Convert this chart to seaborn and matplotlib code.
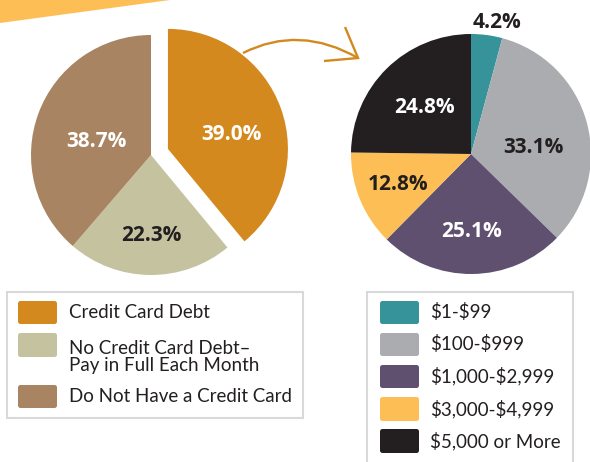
import numpy as np
import matplotlib
matplotlib.use("Agg")
import matplotlib.pyplot as plt
from matplotlib.patches import Polygon, FancyBboxPatch, Rectangle, PathPatch
from matplotlib.path import Path
import seaborn as sns

# Credit card status of respondents
status_labels = ["Credit Card Debt", "No Credit Card Debt\u2013\nPay in Full Each Month",
                 "Do Not Have a Credit Card"]
status_values = [39.0, 22.3, 38.7]
status_colors = ["#D4891E", "#C5C39F", "#A88462"]

# Amount of credit card debt among those carrying a balance
debt_labels = ["$1-$99", "$100-$999", "$1,000-$2,999", "$3,000-$4,999", "$5,000 or More"]
debt_values = [4.2, 33.1, 25.1, 12.8, 24.8]
debt_colors = ["#36939A", "#ABACB0", "#5F5070", "#FDBF55", "#231F20"]

DARK = "#231F20"
H = 462

sns.set_theme(style="white")
plt.rcParams["font.family"] = ["Open Sans", "DejaVu Sans"]
plt.rcParams["text.parse_math"] = False

fig = plt.figure(figsize=(5.9, 4.62), dpi=100)
ax = fig.add_axes([0, 0, 1, 1])


def Y(y):
    return H - y


# decorative band in the top-left corner
ax.add_patch(Polygon([(0, Y(0)), (170, Y(0)), (0, Y(23))], closed=True,
                     facecolor="#FDBF55", edgecolor="none"))

R = 120


def draw_pie(values, colors, center, explode, placement, text_colors):
    wedges, _ = ax.pie(values, colors=colors, startangle=90, counterclock=False,
                       radius=R, center=center, explode=explode,
                       wedgeprops=dict(linewidth=0), frame=True)
    for w, v, (frac, shift), tc in zip(wedges, values, placement, text_colors):
        cx, cy = w.center
        mid = np.deg2rad((w.theta1 + w.theta2) / 2 + shift)
        ax.text(cx + R * frac * np.cos(mid), cy + R * frac * np.sin(mid), f"{v:.1f}%",
                ha="center", va="center", fontsize=15, fontweight="bold", color=tc)
    return wedges


# the debt slice is pulled out from the status pie
draw_pie(status_values, status_colors, (151, Y(155)), [18, 0, 0],
         [(0.54, -7.3), (0.675, 1.0), (0.47, 6.0)], ["white", DARK, "white"])
draw_pie(debt_values, debt_colors, (471, Y(154)), [0, 0, 0, 0, 0],
         [(1.12, -3.5), (0.52, -8.9), (0.65, 0.0), (0.66, 0.0), (0.55, 0.0)],
         [DARK, DARK, "white", DARK, "white"])

ax.set_xlim(0, 590)
ax.set_ylim(0, H)
ax.set_aspect("equal")
ax.axis("off")

# curved arrow linking the debt slice to the breakdown
arrow_color = "#D4891E"
curve = Path([(243, Y(53)), (299.5, Y(24.5)), (358, Y(58))],
             [Path.MOVETO, Path.CURVE3, Path.CURVE3])
ax.add_patch(PathPatch(curve, facecolor="none", edgecolor=arrow_color, lw=1.7))
ax.plot([345, 358, 324], [Y(27), Y(58), Y(61)], color=arrow_color, lw=1.7,
        solid_joinstyle="miter", solid_capstyle="butt")

LEG_FONT = ["Lato", "DejaVu Sans"]


def draw_legend(box, labels, colors, sw_x, txt_x, rows):
    x0, y0, x1, y1 = box
    ax.add_patch(Rectangle((x0, Y(y1)), x1 - x0, y1 - y0, facecolor="white",
                           edgecolor="#D9D9D9", lw=1.5))
    for lab, col, (top, bottom) in zip(labels, colors, rows):
        ax.add_patch(FancyBboxPatch((sw_x, Y(bottom)), 39, bottom - top,
                                    boxstyle="round,pad=0,rounding_size=2.5",
                                    facecolor=col, edgecolor="none"))
        lines = lab.split("\n")
        if len(lines) == 1:
            ax.text(txt_x, Y((top + bottom) / 2), lab, ha="left", va="center",
                    fontsize=13.5, color=DARK, family=LEG_FONT)
        else:
            for k, line in enumerate(lines):
                ax.text(txt_x, Y(top + 15 + 18 * k), line, ha="left", va="center",
                        fontsize=13.5, color=DARK, family=LEG_FONT)


draw_legend((7, 292, 303, 418), status_labels, status_colors, 18, 69,
            [(301, 324), (333, 357), (385, 408)])
draw_legend((367, 292, 573, 475), debt_labels, debt_colors, 380, 430,
            [(301, 324), (333, 356), (365, 388), (397, 421), (429, 453)])

fig.savefig("out.png", dpi=100, facecolor="white")
